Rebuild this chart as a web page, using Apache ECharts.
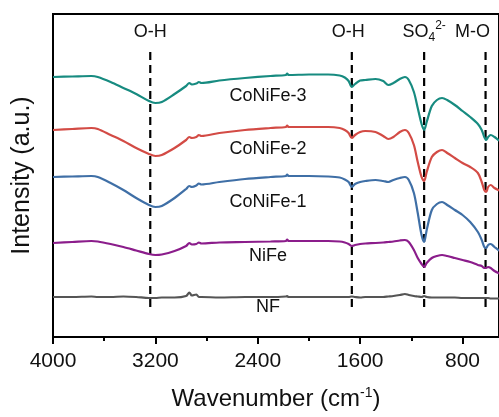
<!DOCTYPE html>
<html>
<head>
<meta charset="utf-8">
<script src="https://cdn.jsdelivr.net/npm/echarts@6/dist/echarts.min.js"></script>
<style>
  html, body { margin: 0; padding: 0; background: #fff; }
  #chart { width: 499px; height: 417px; }
</style>
</head>
<body>
<div id="chart"></div>
<script>
// FTIR spectra, stacked with offsets (arbitrary intensity units)
const wavenumbers = [4000, 3850, 3700, 3650, 3550, 3450, 3350, 3250, 3200, 3150,
  3050, 2960, 2935, 2915, 2880, 2860, 2840, 2700, 2500, 2300,
  2180, 2170, 2160, 2000, 1850, 1760, 1720, 1690, 1665, 1640,
  1600, 1560, 1480, 1420, 1380, 1340, 1290, 1250, 1220, 1180,
  1150, 1120, 1100, 1080, 1040, 1000, 960, 920, 860, 800,
  740, 680, 650, 630, 615, 600, 580, 550, 520, 500];

const coNiFe3 = [26.0, 26.05, 26.1, 26.0, 25.5, 24.9, 24.3, 23.6, 23.4, 23.5,
  24.3, 25.1, 25.4, 25.25, 25.35, 25.5, 25.4, 25.65, 25.9, 26.1,
  26.2, 26.35, 26.2, 26.25, 26.25, 26.15, 25.95, 25.6, 25.0, 25.3,
  25.65, 25.7, 25.8, 25.6, 25.2, 25.4, 25.8, 26.0, 25.7, 24.5,
  22.9, 21.3, 20.7, 21.5, 23.1, 23.7, 23.9, 23.7, 23.2, 22.6,
  22.0, 21.3, 20.7, 20.0, 19.7, 20.0, 20.2, 20.0, 19.7, 19.6];

const coNiFe2 = [20.7, 20.8, 20.9, 20.8, 20.2, 19.6, 18.9, 18.3, 18.1, 18.2,
  18.9, 19.7, 20.0, 19.9, 20.0, 20.2, 20.1, 20.4, 20.7, 20.9,
  21.0, 21.15, 21.0, 21.0, 21.0, 20.9, 20.7, 20.4, 19.9, 20.2,
  20.5, 20.6, 20.5, 20.1, 19.8, 20.0, 20.5, 20.7, 20.4, 19.2,
  17.5, 16.0, 15.6, 16.5, 18.0, 18.5, 18.7, 18.4, 17.9, 17.4,
  17.0, 16.4, 15.5, 14.7, 14.5, 15.0, 15.2, 14.9, 14.7, 14.6];

const coNiFe1 = [16.0, 16.05, 16.1, 16.0, 15.4, 14.7, 13.9, 13.2, 13.0, 13.1,
  13.9, 14.8, 15.1, 15.0, 15.15, 15.35, 15.25, 15.5, 15.8, 16.0,
  16.1, 16.25, 16.1, 16.1, 16.05, 15.95, 15.75, 15.5, 15.0, 15.3,
  15.5, 15.6, 15.7, 15.6, 15.5, 15.7, 15.9, 16.0, 15.7, 14.4,
  12.4, 10.2, 9.5, 10.7, 12.7, 13.3, 13.5, 13.2, 12.7, 12.2,
  11.5, 10.5, 9.7, 9.0, 8.9, 9.2, 9.3, 9.0, 8.7, 8.6];

const niFe = [9.4, 9.5, 9.6, 9.55, 9.3, 9.0, 8.65, 8.3, 8.2, 8.25,
  8.6, 9.1, 9.4, 9.25, 9.3, 9.45, 9.35, 9.45, 9.5, 9.55,
  9.6, 9.75, 9.6, 9.6, 9.6, 9.55, 9.45, 9.3, 9.1, 9.2,
  9.3, 9.35, 9.4, 9.45, 9.5, 9.55, 9.65, 9.7, 9.5, 8.7,
  7.9, 7.3, 7.0, 7.4, 7.9, 8.1, 8.2, 8.1, 7.9, 7.7,
  7.5, 7.2, 7.1, 6.9, 6.9, 7.0, 6.9, 6.6, 6.4, 6.3];

const nf = [4.0, 4.0, 4.05, 4.0, 4.0, 4.05, 4.0, 3.9, 3.9, 3.95,
  3.95, 4.1, 4.45, 4.15, 4.25, 4.0, 4.0, 3.95, 4.0, 4.0,
  4.05, 4.1, 4.0, 4.0, 4.0, 4.0, 4.0, 4.0, 4.05, 4.0,
  3.95, 4.0, 4.0, 4.0, 4.05, 4.1, 4.2, 4.3, 4.2, 4.1,
  4.05, 4.0, 4.1, 4.0, 3.95, 3.95, 3.95, 3.95, 3.95, 3.9,
  3.9, 3.9, 3.9, 3.9, 3.9, 3.9, 3.85, 3.85, 3.85, 3.85];

const sampleNames = ['CoNiFe-3', 'CoNiFe-2', 'CoNiFe-1', 'NiFe', 'NF'];
const sampleColors = ['#178b80', '#d34b45', '#3f6fa6', '#8b1d8b', '#555555'];
const sampleLabelX = [2320, 2320, 2320, 2320, 2320];
const sampleLabelY = [24.1, 18.8, 13.5, 8.1, 3.0];

// Assigned band positions (cm^-1) and their annotation
const bandPositions = [3240, 1665, 1100, 620];
const bandLabels = ['O-H', 'O-H', 'SO{sub|4}{sup|2-}', 'M-O'];
const bandLabelX = [3240, 1692, 1100, 722];
const bandLabelY = 30.5;
const bandLineTop = 28.7;
const bandLineBottom = 3.0;

const xMajorTicks = [4000, 3200, 2400, 1600, 800];
const xMinorTicks = [3600, 2800, 2000, 1200];
const xRange = [515, 4000];

const spectra = [coNiFe3, coNiFe2, coNiFe1, niFe, nf];
const font = 'Liberation Sans, Arial, sans-serif';
const textColor = '#111';

const series = [];

bandPositions.forEach(function (wn) {
  series.push({
    type: 'line',
    data: [[wn, bandLineBottom], [wn, bandLineTop]],
    symbol: 'none',
    silent: true,
    lineStyle: { color: '#000', width: 2.2, type: [8, 5] },
    z: 1
  });
});

spectra.forEach(function (vals, i) {
  series.push({
    name: sampleNames[i],
    type: 'line',
    data: wavenumbers.map(function (w, k) { return [w, vals[k]]; }),
    symbol: 'none',
    smooth: 0.3,
    lineStyle: { color: sampleColors[i], width: 2.2 },
    z: 3
  });
});

series.push({
  type: 'scatter',
  symbolSize: 1,
  silent: true,
  itemStyle: { color: 'rgba(0,0,0,0)' },
  data: sampleNames.map(function (n, i) { return [sampleLabelX[i], sampleLabelY[i], n]; }),
  label: {
    show: true,
    position: 'inside',
    formatter: function (p) { return p.data[2]; },
    color: textColor,
    opacity: 1,
    textBorderWidth: 0,
    fontFamily: font,
    fontSize: 18
  },
  z: 4
});

series.push({
  type: 'scatter',
  symbolSize: 1,
  silent: true,
  itemStyle: { color: 'rgba(0,0,0,0)' },
  data: bandLabels.map(function (t, i) { return [bandLabelX[i], bandLabelY, t]; }),
  label: {
    show: true,
    position: 'inside',
    formatter: function (p) { return p.data[2]; },
    color: textColor,
    opacity: 1,
    textBorderWidth: 0,
    fontFamily: font,
    fontSize: 18,
    lineHeight: 24,
    rich: {
      sub: { fontSize: 12, fontFamily: font, color: textColor, verticalAlign: 'bottom', lineHeight: 24, padding: [8, 0, 0, 0] },
      sup: { fontSize: 12, fontFamily: font, color: textColor, verticalAlign: 'top', lineHeight: 24, padding: [0, 0, 10, 0] }
    }
  },
  z: 4
});

const chart = echarts.init(document.getElementById('chart'), null, { renderer: 'canvas' });
chart.setOption({
  animation: false,
  backgroundColor: '#fff',
  grid: {
    left: 53, top: 14, bottom: 80, right: 0,
    show: true, borderColor: '#000', borderWidth: 2, backgroundColor: 'transparent'
  },
  xAxis: [{
    type: 'value',
    inverse: true,
    min: xRange[0],
    max: xRange[1],
    name: 'Wavenumber (cm{sup|-1})',
    nameLocation: 'middle',
    nameGap: 49,
    nameTextStyle: {
      fontFamily: font, fontSize: 24, color: textColor,
      rich: { sup: { fontFamily: font, fontSize: 14, color: textColor, verticalAlign: 'top', padding: [0, 0, 12, 0] } }
    },
    axisLine: { lineStyle: { color: '#000', width: 2 } },
    axisTick: { show: true, inside: false, length: 7, customValues: xMajorTicks, lineStyle: { color: '#000', width: 2 } },
    axisLabel: {
      margin: 14,
      customValues: xMajorTicks,
      formatter: function (v) { return String(v); },
      fontFamily: font, fontSize: 21, color: textColor
    },
    splitLine: { show: false }
  }, {
    // minor ticks between the labelled ones
    type: 'value',
    position: 'bottom',
    inverse: true,
    min: xRange[0],
    max: xRange[1],
    axisLine: { show: false },
    axisTick: { show: true, inside: false, length: 4, customValues: xMinorTicks, lineStyle: { color: '#000', width: 2 } },
    axisLabel: { show: false },
    splitLine: { show: false }
  }],
  yAxis: {
    type: 'value',
    min: 0,
    max: 32.3,
    name: 'Intensity (a.u.)',
    nameLocation: 'middle',
    nameGap: 18,
    nameTextStyle: { fontFamily: font, fontSize: 25, color: textColor },
    axisLine: { show: true, lineStyle: { color: '#000', width: 2 } },
    axisTick: { show: false },
    axisLabel: { show: false },
    splitLine: { show: false }
  },
  series: series
});
</script>
</body>
</html>
